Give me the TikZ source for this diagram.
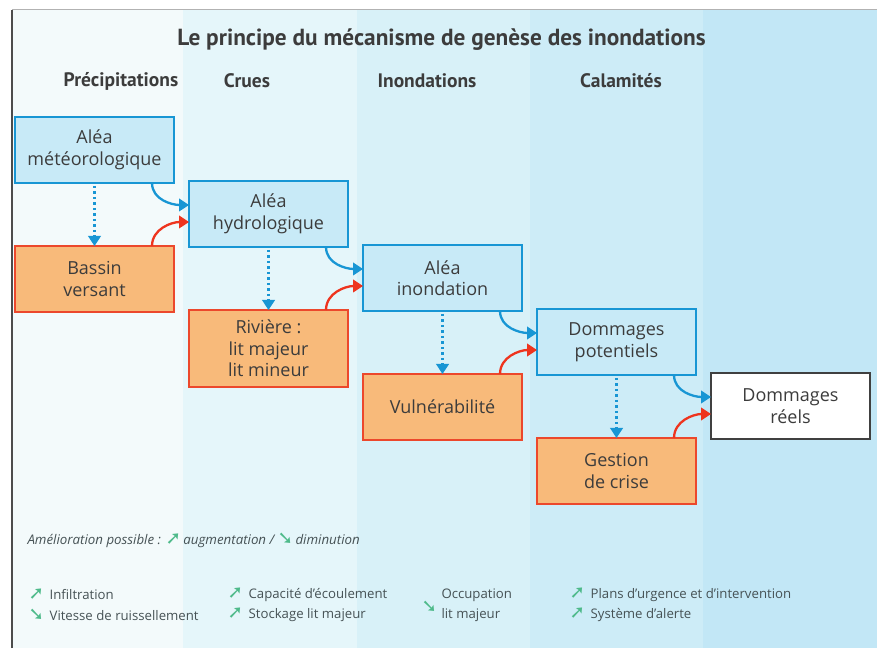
\documentclass[tikz,border=0pt]{standalone}
\usepackage{fontspec}
\setmainfont{Open Sans}
\newfontfamily\titlefont{PT Sans}
\newfontfamily\symbfont{DejaVu Sans}
\usetikzlibrary{positioning,arrows.meta}
\definecolor{bluebord}{RGB}{24,150,212}
\definecolor{bluefill}{RGB}{200,234,247}
\definecolor{orangefill}{RGB}{248,186,122}
\definecolor{redbord}{RGB}{236,72,44}
\definecolor{redarrow}{RGB}{238,52,30}
\definecolor{textgray}{RGB}{60,60,60}
\definecolor{leggray}{RGB}{70,82,85}
\definecolor{leggreen}{RGB}{78,186,138}
\definecolor{bandA}{RGB}{243,250,251}
\definecolor{bandB}{RGB}{229,246,250}
\definecolor{bandC}{RGB}{216,241,248}
\definecolor{bandD}{RGB}{205,236,247}
\definecolor{bandE}{RGB}{194,231,246}
\newcommand{\hausse}{{\color{leggreen}\scalebox{1.4}{\symbfont\char"279A}}}
\newcommand{\baisse}{{\color{leggreen}\scalebox{1.4}{\symbfont\char"2798}}}
\begin{document}
\begin{tikzpicture}[x=1pt, y=1pt, node distance={63pt},
    alea/.style = {draw=bluebord, fill=bluefill, line width=1.6pt, minimum width=159pt,
      minimum height=66pt, inner sep=0pt, outer sep=0pt, align=center, text=textgray,
      font=\fontsize{18}{21.5}\selectfont},
    facteur/.style = {alea, draw=redbord, fill=orangefill},
    flux/.style = {bluebord, line width=2.3pt, -{Triangle[length=10pt,width=12.5pt]}},
    pointille/.style = {flux, dash pattern=on 2.5pt off 3pt, shorten <=3pt},
    ctrl/.style = {flux, redarrow},
    entete/.style = {font=\titlefont\bfseries\fontsize{19.5}{22}\selectfont, text=textgray},
    legende/.style = {anchor=west, align=left, text=leggray, font=\fontsize{13.2}{20.5}\selectfont}]
	\useasboundingbox (0,0) rectangle (877,648);
	% bandes de fond
	\fill[bandA] (12,0) rectangle (183,638);
	\fill[bandB] (183,0) rectangle (357,638);
	\fill[bandC] (357,0) rectangle (530,638);
	\fill[bandD] (530,0) rectangle (703,638);
	\fill[bandE] (703,0) rectangle (877,638);
	\draw[gray!60, line width=1pt] (12,638) -- (877,638);
	\draw[black!70, line width=1.5pt] (12,0) -- (12,638);

	\node[entete, font=\titlefont\bfseries\fontsize{23.3}{26}\selectfont] (titre) at (441.5,608) {Le principe du mécanisme de genèse des inondations};
	\node[entete] (precip) at (121,567) {Précipitations};
	\node[entete] (crues) at (247,567) {Crues};
	\node[entete] (inondations) at (427,567) {Inondations};
	\node[entete] (calam) at (621,567) {Calamités};

	\node[alea] (met) at (94.5,498) {Aléa\\météorologique};
	\node[facteur] (bassin) [below=of met] {Bassin\\versant};
	\node[alea] (hydro) [below right=-2pt and 15pt of met] {Aléa\\hydrologique};
	\node[facteur, minimum height=77pt] (riviere) [below=of hydro] {Rivière :\\lit majeur\\lit mineur};
	\node[alea] (inond) [below right=-2pt and 15pt of hydro] {Aléa\\inondation};
	\node[facteur] (vuln) [below=of inond] {Vulnérabilité};
	\node[alea] (pot) [below right=-2pt and 15pt of inond] {Dommages\\potentiels};
	\node[facteur] (gestion) [below=of pot] {Gestion\\de crise};
	\node[alea, draw=black!75, fill=white] (reels) [below right=-2pt and 15pt of pot] {Dommages\\réels};

	\draw[pointille] (met) -- (bassin);
	\draw[pointille] (hydro) -- (riviere);
	\draw[pointille] (inond) -- (vuln);
	\draw[pointille] (pot) -- (gestion);

	\draw[flux] ([xshift=-22pt]met.south east) to [out=-90, in=180] ([yshift=9pt]hydro.west);
	\draw[ctrl] ([xshift=-22pt]bassin.north east) to [out=90, in=180] ([yshift=-8pt]hydro.west);
	\draw[flux] ([xshift=-22pt]hydro.south east) to [out=-90, in=180] ([yshift=9pt]inond.west);
	\draw[ctrl] ([xshift=-22pt]riviere.north east) to [out=90, in=180] ([yshift=-8pt]inond.west);
	\draw[flux] ([xshift=-22pt]inond.south east) to [out=-90, in=180] ([yshift=9pt]pot.west);
	\draw[ctrl] ([xshift=-22pt]vuln.north east) to [out=90, in=180] ([yshift=-8pt]pot.west);
	\draw[flux] ([xshift=-22pt]pot.south east) to [out=-90, in=180] ([yshift=9pt]reels.west);
	\draw[ctrl] ([xshift=-22pt]gestion.north east) to [out=90, in=180] ([yshift=-8pt]reels.west);

	\node[legende, font=\itshape\fontsize{13.3}{15}\selectfont] (amelio) at (24,108) {Amélioration possible : \hausse\,augmentation / \baisse\,diminution};
	\node[legende] (leg1) at (25,43) {\hausse\, Infiltration\\\baisse\, Vitesse de ruissellement};
	\node[legende] (leg2) at (224,43) {\hausse\, Capacité d'écoulement\\\hausse\, Stockage lit majeur};
	\node[legende] (leg3fl) at (418,41) {\baisse};
	\node[legende] (leg3) at (438,43) {Occupation\\lit majeur};
	\node[legende] (leg4) at (566,43) {\hausse\, Plans d'urgence et d'intervention\\\hausse\, Système d'alerte};
\end{tikzpicture}
\end{document}
